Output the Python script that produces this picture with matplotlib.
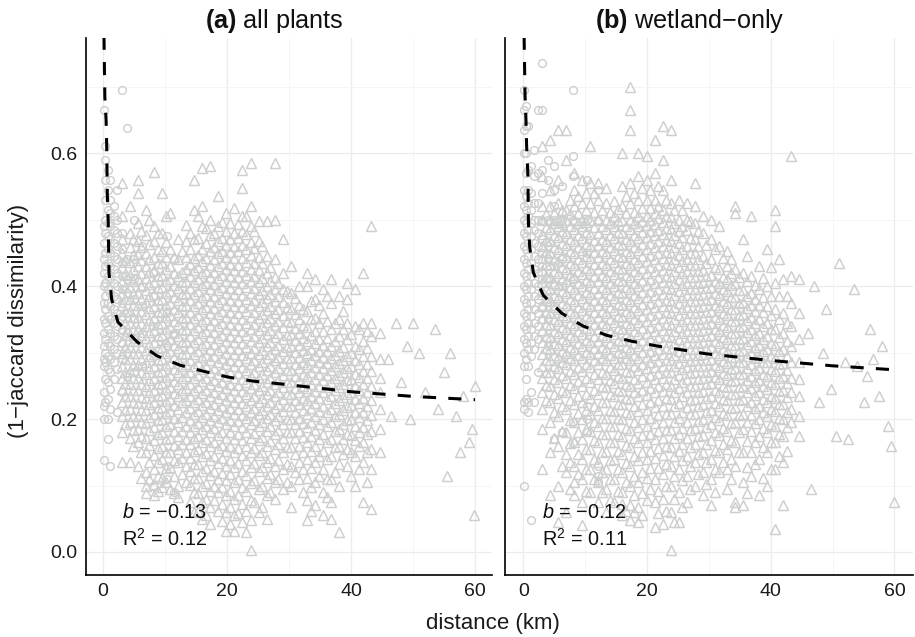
import matplotlib
matplotlib.use("Agg")
import matplotlib.pyplot as plt

plt.rcParams['font.family'] = ['Liberation Sans', 'DejaVu Sans']
plt.rcParams['mathtext.fontset'] = 'custom'
plt.rcParams['mathtext.rm'] = 'Liberation Sans'
plt.rcParams['mathtext.it'] = 'Liberation Sans:italic'
plt.rcParams['mathtext.bf'] = 'Liberation Sans:bold'

# y values are stored in thousandths
col_x = [3,4.3,5.6,6.9,8.2,9.5,10.8,12.1,13.4,14.7,16,17.3,18.6,19.9,21.2,22.5,23.8,25.1,26.4,27.7,29,30.3,31.6,32.9,34.2,35.5,36.8,38.1,39.4,40.7,42,43.3,44.6]
core_x = [3.6,4.9,6.2,7.5,8.8,10.1,11.4,12.7,14,15.3,16.6,17.9,19.2,20.5,21.8,23.1,24.4,25.7,27,28.3,29.6,30.9,32.2,33.5,34.8,36.1,37.4,38.7,40,41.3,42.6]

a_circle_x = [0.1,0.4,0.8,1.2,1.7,2.3,3.0,3.9,5.0,6.3,8.0,10.3,11.5]
a_circle_y = [
 [138,200,220,240,280,290,310,330,350,375,400,420,440,465,490,665],
 [225,260,285,300,320,345,365,385,405,430,450,480,500,530,560,590,610],
 [170,200,230,255,275,295,315,335,355,375,395,415,435,455,475,495,515,545,575],
 [130,215,245,270,290,310,330,350,370,390,410,430,450,470,490,510,530,560],
 [260,285,305,325,345,365,385,405,425,445,465,485,505,520],
 [210,275,300,320,340,360,380,400,420,440,460,480,500,545],
 [240,290,315,335,355,375,395,415,435,455,480,695],
 [265,300,330,360,390,410,440,638],
 [270,320,350,380,410,440,500],
 [280,330,370,400,460],
 [100,300,340,385,420],
 [110,130,310,360,475],
 [90,330,440],
]
a_y = [
 [135,180,205,225,245,262,280,300,318,336,354,372,390,408,428,450,470,505,555],
 [135,172,195,215,234,252,272,290,308,326,344,362,380,398,416,436,458,480,520],
 [130,165,185,205,224,243,262,281,300,318,336,354,372,390,410,430,448,468,495,540,560],
 [88,100,120,150,172,194,213,232,250,268,286,304,322,340,358,376,394,412,430,450,476,515],
 [85,102,125,146,168,188,208,226,244,262,280,298,316,334,352,370,388,406,424,444,468,490,572],
 [98,112,140,160,180,200,218,236,254,272,290,308,326,344,362,380,398,416,434,452,480,540],
 [95,128,150,172,192,212,230,248,266,284,302,320,338,356,374,392,410,430,456,510],
 [82,100,135,155,175,195,215,235,253,271,289,307,325,343,361,379,397,415,440,470],
 [105,130,150,170,190,210,228,246,264,282,300,318,336,354,372,390,408,426,444,468,492],
 [60,90,112,132,152,172,190,208,226,244,262,280,298,316,334,352,370,388,406,424,442,470,515,560],
 [50,75,100,122,144,165,185,203,221,239,257,275,293,311,329,347,365,383,401,419,437,455,490,520,578],
 [42,68,92,116,138,160,180,198,216,234,252,270,288,306,324,342,360,378,396,414,432,452,476,500,580],
 [62,90,110,134,156,176,196,214,232,250,268,286,304,322,340,358,376,394,412,430,450,468,490,535],
 [32,60,85,108,130,152,172,192,210,228,246,264,282,300,318,336,354,372,390,408,426,444,462,482,510],
 [32,55,80,105,128,150,170,190,208,226,244,262,280,298,316,334,352,370,388,406,424,442,460,480,518],
 [45,72,98,122,146,168,188,206,224,242,260,278,296,314,332,350,368,386,404,422,442,462,482,505,548,575],
 [3,48,78,104,128,150,172,192,210,228,246,264,282,300,318,336,354,372,390,408,426,446,466,490,520,585],
 [60,95,122,146,168,190,208,226,244,262,280,298,316,334,352,370,388,406,424,444,468,498],
 [50,85,112,136,160,182,202,220,238,256,274,292,310,328,346,364,382,400,420,445,498],
 [80,105,130,155,178,198,216,234,252,270,288,306,324,342,360,378,396,414,440,500,585],
 [95,125,150,172,192,212,230,248,266,284,302,320,338,356,376,396,420,470],
 [68,100,130,158,180,200,220,238,256,274,292,310,328,346,366,390,430],
 [110,135,160,182,202,222,240,258,276,294,312,330,350,372,400],
 [48,78,112,140,165,188,208,228,246,264,282,300,318,338,362,400,420],
 [70,105,135,160,184,204,224,242,260,278,296,314,332,352,380,410],
 [55,90,125,152,178,200,220,240,258,276,294,312,332,360,395],
 [50,75,110,145,170,195,215,235,255,273,291,310,335,375,410],
 [30,100,132,160,185,208,228,248,266,284,302,325,350,385],
 [130,155,178,198,218,238,258,276,295,320,345,405,380],
 [100,145,168,190,210,230,250,268,288,310,340,395],
 [75,135,165,188,210,232,252,272,295,318,345,420],
 [65,125,155,182,206,228,250,272,295,325,345,490],
 [150,185,215,240,262,290,330],
]
a_core = [
 [192,214,235,254,271,290,309,327,345,363,381,399,418,439],
 [160,184,205,225,243,262,281,299,317,335,353,371,389,407,426,447,470],
 [112,150,175,195,214,233,252,271,290,309,327,345,363,381,400,420,439,458,482],
 [110,135,161,183,203,222,241,259,277,295,313,331,349,367,385,403,421,440,463,500],
 [92,114,136,157,178,198,217,235,253,271,289,307,325,343,361,379,397,415,434,456,479],
 [105,126,150,170,190,209,227,245,263,281,299,317,335,353,371,389,407,425,443,466,505],
 [88,115,139,161,182,202,221,239,257,275,293,311,329,347,365,383,401,420,443],
 [118,142,162,182,203,225,244,262,280,298,316,334,352,370,388,406,421,452],
 [75,101,122,142,162,181,199,217,235,253,271,289,307,325,343,361,379,397,415,433,455,480],
 [62,88,111,133,155,175,194,212,230,248,266,284,302,320,338,356,374,392,410,428,446,472,505],
 [55,80,104,127,149,170,189,207,225,243,261,279,297,315,333,351,369,387,405,423,442,464,488],
 [78,100,122,145,166,186,205,223,241,259,277,295,313,331,349,367,385,403,421,440,459,480],
 [46,72,97,119,141,161,181,201,219,237,255,273,291,309,327,345,363,381,399,417,435,453,472,497],
 [42,68,92,117,139,160,180,199,217,235,253,271,289,307,325,343,361,379,397,415,433,451,471,495],
 [58,85,110,134,157,178,197,215,233,251,269,287,305,323,341,359,377,395,413,431,452,472,494],
 [30,62,91,116,139,160,181,201,219,237,255,273,291,309,327,345,363,381,399,417,436,456,478,505],
 [75,108,134,157,179,199,217,235,253,271,289,307,325,343,361,379,397,415,435,457,482],
 [68,100,128,151,173,195,214,232,250,268,286,304,322,340,358,376,394,412,434,460],
 [90,117,142,167,189,208,226,244,262,280,298,316,334,352,370,388,407,428],
 [110,138,162,184,204,222,240,258,276,294,312,330,348,366,385,405],
 [105,133,158,180,200,219,237,255,273,291,309,327,347,368,392],
 [120,148,172,192,211,229,247,265,283,301,319,337,358,382],
 [90,125,150,173,194,214,232,250,268,286,304,322,342,365],
 [62,98,127,152,175,196,216,234,252,270,288,306,326,350,378],
 [115,145,170,192,212,231,249,267,285,303,321,344,372],
 [82,110,140,165,189,210,230,248,266,284,302,322,348,385],
 [120,158,182,204,224,243,261,279,297,318,345],
 [148,170,192,213,233,252,270,288,308,335,362],
 [115,150,176,200,221,241,260,279,300,328],
 [125,160,180,203,224,244,263,283,305,335],
 [105,150,177,199,220,241,261,282,307,333],
]
a_sparse_x = [46,46.5,47.3,48,49,49.5,50,51,52,53.5,54,55,55.5,56,57,57.5,58,59,59.5,59.8,60]
a_sparse_y = [290,205,345,255,310,200,345,300,240,335,215,270,115,300,205,150,235,165,185,55,250]
a_curve_x = [0.16,0.3,0.5,0.6,0.7,0.85,0.97,1.4,2.4,5.5,8.7,12.4,16.1,20.2,24.2,28.5,40,50,60]
a_curve_y = [775,684,650,610,534,495,420,380,346,316,295,281,272,263,257,253,241,234,229]

b_circle_x = [0.1,0.4,0.8,1.2,1.7,2.3,3.0,3.9,5.0,6.3,8.0,10.3,12]
b_circle_y = [
 [100,215,225,280,300,320,340,360,380,400,420,440,460,480,500,520,545,600,635,665,695],
 [230,260,290,315,335,355,375,395,415,435,455,475,495,515,535,570,600,640,670],
 [210,225,280,305,325,345,365,385,405,425,445,465,485,505,525,545,575,640],
 [48,240,295,315,335,355,375,395,415,435,455,475,495,515,540,580],
 [225,305,325,345,365,385,405,425,445,465,485,500,525,565,605],
 [270,320,340,360,380,400,420,440,460,480,500,525,570,665],
 [330,350,370,390,410,430,450,470,500,540,575,665,735],
 [310,350,380,410,440,460,500,560,590],
 [170,370,400,430,500,520,545,580],
 [180,360,400,440,500,510,550],
 [165,195,410,500,565,595,695],
 [180,200,220,450,500,560],
 [105,115,130,500,545],
]
b_y = [
 [125,185,215,240,262,280,298,316,334,352,370,388,406,424,442,460,478,500,520,565,610],
 [85,150,195,225,250,270,288,306,324,342,360,378,396,414,432,450,468,486,500,520,545,620],
 [45,100,160,205,232,256,276,294,312,330,348,366,384,402,420,438,456,474,490,500,525,560,635],
 [60,120,148,180,215,240,262,282,300,318,336,354,372,390,408,426,444,462,480,500,515,590,635],
 [85,105,130,165,195,222,246,268,288,306,324,342,360,378,396,414,432,450,468,486,500,520,545,570],
 [40,75,110,140,170,200,226,250,272,292,310,328,346,364,382,400,418,436,454,472,490,500,525,560],
 [90,125,155,182,208,232,256,278,298,316,334,352,370,388,406,424,442,460,478,500,525,555,610],
 [75,105,135,165,190,214,238,260,282,300,318,336,354,372,390,408,426,444,462,480,500,530,555],
 [60,95,125,152,178,202,226,248,268,288,306,324,342,360,378,396,414,432,450,468,486,500,525,548],
 [75,110,140,165,190,212,234,254,274,292,310,328,346,364,382,400,418,436,454,472,490,505,528],
 [55,72,90,120,148,175,200,222,242,262,282,300,318,336,354,372,390,408,426,444,462,480,500,520,550,600],
 [48,70,100,130,158,184,208,230,250,270,288,306,324,342,360,378,396,414,432,450,468,486,500,525,555,635,665,700],
 [45,68,105,138,165,188,212,234,254,274,292,310,328,346,364,382,400,418,436,454,472,490,505,530,565,600],
 [78,112,140,165,190,214,236,256,276,294,312,330,348,366,384,402,420,438,456,474,492,505,530,560,595],
 [38,75,110,142,170,194,218,240,260,278,296,314,332,350,368,386,404,422,440,458,476,494,510,530,570,620],
 [42,80,118,146,172,196,220,242,262,280,298,316,334,352,370,388,406,424,442,460,478,496,515,545,590,640],
 [3,60,100,130,158,184,208,230,250,270,288,306,324,342,360,378,396,414,432,450,468,486,504,525,560,635],
 [45,90,125,152,178,202,224,246,266,284,302,320,338,356,374,392,410,428,446,464,482,500,530],
 [75,115,145,172,196,218,240,260,278,296,314,332,350,368,386,404,422,440,460,485,500,525],
 [100,135,162,186,208,230,250,270,288,306,324,342,360,378,396,414,432,450,470,495,520,555],
 [85,120,150,176,200,222,242,262,280,298,316,334,352,370,388,406,424,445,480,505],
 [70,110,140,168,192,214,234,254,272,290,308,326,344,362,380,398,416,440,470,500],
 [120,150,176,198,220,240,260,278,296,314,332,350,368,386,404,425,460,490],
 [95,125,155,182,206,228,248,266,284,302,320,338,356,374,392,410,430,452],
 [68,75,130,165,195,218,238,258,276,294,312,330,348,366,384,404,425,510,520],
 [70,105,150,185,208,230,250,268,286,304,322,340,358,376,394,420,470],
 [115,150,182,206,226,246,264,282,300,318,336,354,372,390,415,505],
 [85,140,175,200,220,240,258,276,294,312,330,350,372,395,430],
 [100,150,180,205,225,245,265,285,305,325,345,370,400,455],
 [35,125,165,190,212,232,252,272,292,312,335,365,405,490,515],
 [70,135,175,200,222,244,264,284,306,330,360,410],
 [195,215,240,262,285,310,340,375,415,595],
 [175,205,235,260,285,320,360,410],
]
b_core = [
 [228,251,271,289,307,325,343,361,379,397,415,433,451,469,489,508],
 [172,210,238,260,279,297,315,333,351,369,387,405,423,441,459,477,495,510],
 [130,182,219,244,266,285,303,321,339,357,375,393,411,429,447,465,483,497,515],
 [95,135,164,198,228,251,272,291,309,327,345,363,381,399,417,435,453,471,490,508,530],
 [118,148,180,209,234,257,278,297,315,333,351,369,387,405,423,441,459,477,495,510,535],
 [92,125,155,185,213,238,261,282,301,319,337,355,373,391,409,427,445,463,481,497,515,540],
 [110,140,168,195,220,244,267,288,307,325,343,361,379,397,415,433,451,469,489,512,540],
 [90,120,150,178,202,226,249,271,291,309,327,345,363,381,399,417,435,453,471,490,515],
 [78,110,138,165,190,214,237,258,278,297,315,333,351,369,387,405,423,441,459,477,495,512],
 [92,125,152,178,201,223,244,264,283,301,319,337,355,373,391,409,427,445,463,481,498,516],
 [62,105,134,161,187,211,232,252,272,291,309,327,345,363,381,399,417,435,453,471,490,510,535],
 [60,85,115,144,171,196,219,240,260,279,297,315,333,351,369,387,405,423,441,459,477,495,512,540],
 [56,88,121,151,176,200,223,244,264,283,301,319,337,355,373,391,409,427,445,463,481,498,518,548],
 [95,126,152,177,202,225,246,266,285,303,321,339,357,375,393,411,429,447,465,483,500,518,545],
 [58,92,126,156,182,206,229,250,269,287,305,323,341,359,377,395,413,431,449,467,485,502,520,550],
 [62,100,132,159,184,208,231,252,271,289,307,325,343,361,379,397,415,433,451,469,487,505,530],
 [45,80,115,144,171,196,219,240,260,279,297,315,333,351,369,387,405,423,441,459,477,495,514],
 [68,108,138,162,187,210,235,256,275,293,311,329,347,365,383,401,419,437,455,473,491,515],
 [95,130,158,184,207,229,250,269,287,305,323,341,359,377,395,413,431,450,472,498],
 [118,148,174,197,219,240,260,279,297,315,333,351,369,387,405,423,441,460,482],
 [102,135,163,188,211,232,252,271,289,307,325,343,361,379,397,415,435,462],
 [90,125,154,180,203,224,244,263,281,299,317,335,353,371,389,407,428,455],
 [135,163,187,209,230,250,269,287,305,323,341,359,377,395,414,442],
 [110,140,168,194,217,238,257,275,293,311,329,347,365,383,401,420,441],
 [150,180,206,228,248,267,285,303,321,339,357,375,394,414],
 [88,128,167,196,219,240,259,277,295,313,331,349,367,385,407,445],
 [132,166,194,216,236,255,273,291,309,327,345,363,381,402],
 [112,158,187,210,230,249,267,285,303,321,340,361,383,412],
 [125,165,192,215,235,255,275,295,315,335,357,385,428],
 [145,178,201,222,242,262,282,302,323,350,385,440],
 [152,188,211,233,254,274,295,318,345,385],
]
b_sparse_x = [46,46.5,47,47.8,48.5,49,49.8,50.5,51,52,52.5,53.5,54,55,55.5,56,56.5,57.5,58,59,59.5,60]
b_sparse_y = [330,95,400,225,300,365,245,175,435,285,170,395,280,225,265,335,290,235,310,190,160,75]
b_curve_x = [0.1,0.25,0.4,0.5,0.7,0.8,1,1.6,3.2,6.2,9.6,13.4,17.5,21.5,25.6,29.6,40,50,60]
b_curve_y = [775,687,650,612,570,495,459,420,386,359,340,326,317,310,304,298,288,280,274]

x_ticks = [0,20,40,60]
y_ticks = [0.0,0.2,0.4,0.6]
titles = [r'$\mathbf{(a)}$ all plants', r'$\mathbf{(b)}$ wetland−only']
notes = [('−0.13','0.12'), ('−0.12','0.11')]

GREY = '#cdcfce'
W, H = 915, 637
fig = plt.figure(figsize=(W/100, H/100), dpi=100)
ax1 = fig.add_axes([85.5/W, 1-575/H, 406.5/W, 537/H])
ax2 = fig.add_axes([505/W, 1-575/H, 408/W, 537/H])

def expand(xs, rows):
    px, py = [], []
    for x, row in zip(xs, rows):
        for v in row:
            px.append(x); py.append(v/1000)
    return px, py

panels = [
 (ax1,(-2.82,62.74),a_circle_x,a_circle_y,a_y,a_core,a_sparse_x,a_sparse_y,a_curve_x,a_curve_y),
 (ax2,(-2.99,63.0),b_circle_x,b_circle_y,b_y,b_core,b_sparse_x,b_sparse_y,b_curve_x,b_curve_y),
]
title_px = [274.5, 690]
tri = dict(ls='none', marker='^', ms=7.0, mfc='none', mec=GREY, mew=1.05)
for i,(ax,xl,cx,cy,ty,core,sx,sy,lx,ly) in enumerate(panels):
    ax.set_xlim(*xl); ax.set_ylim(-0.0346,0.773)
    ax.set_axisbelow(True)
    ax.set_xticks(x_ticks); ax.set_yticks(y_ticks)
    ax.set_xticks([10,30,50], minor=True); ax.set_yticks([0.1,0.3,0.5,0.7], minor=True)
    ax.grid(True, which='major', color='#ececec', lw=0.9)
    ax.grid(True, which='minor', color='#f4f4f4', lw=0.6)
    ax.tick_params(which='both', length=0)
    ax.tick_params(axis='both', labelsize=14, colors='#1a1a1a', pad=6)
    for s in ('top','right'):
        ax.spines[s].set_visible(False)
    for s in ('left','bottom'):
        ax.spines[s].set_linewidth(1.2)
    if i == 1:
        ax.tick_params(axis='y', labelleft=False)
    tx, tyy = expand(col_x, ty)
    ax.plot(tx, tyy, **tri)
    kx, ky = expand(core_x, core)
    ax.plot(kx, ky, **tri)
    ax.plot(sx, [v/1000 for v in sy], **tri)
    c1, c2 = expand(cx, cy)
    ax.plot(c1, c2, ls='none', marker='o', ms=5.6, mfc='none', mec=GREY, mew=1.0)
    ax.plot(lx, [v/1000 for v in ly], color='black', lw=2.2, dashes=(4.3,4.0), dash_capstyle='butt')
    ax.text(3.0, 0.060, rf'$\mathit{{b}}$ = {notes[i][0]}', fontsize=14.3, va='center', color='#111111')
    ax.text(3.0, 0.020, rf'R$^2$ = {notes[i][1]}', fontsize=14.3, va='center', color='#111111')
    fig.text(title_px[i]/W, 1-21/H, titles[i], ha='center', va='center', fontsize=18.2, color='#111111')

fig.text(19/W, 1-321/H, '(1−jaccard dissimilarity)', rotation=90, ha='center', va='center', fontsize=16, color='#1a1a1a')
fig.text(493/W, 1-624/H, 'distance (km)', ha='center', va='center', fontsize=16, color='#1a1a1a')
fig.savefig('out.png', dpi=100)
